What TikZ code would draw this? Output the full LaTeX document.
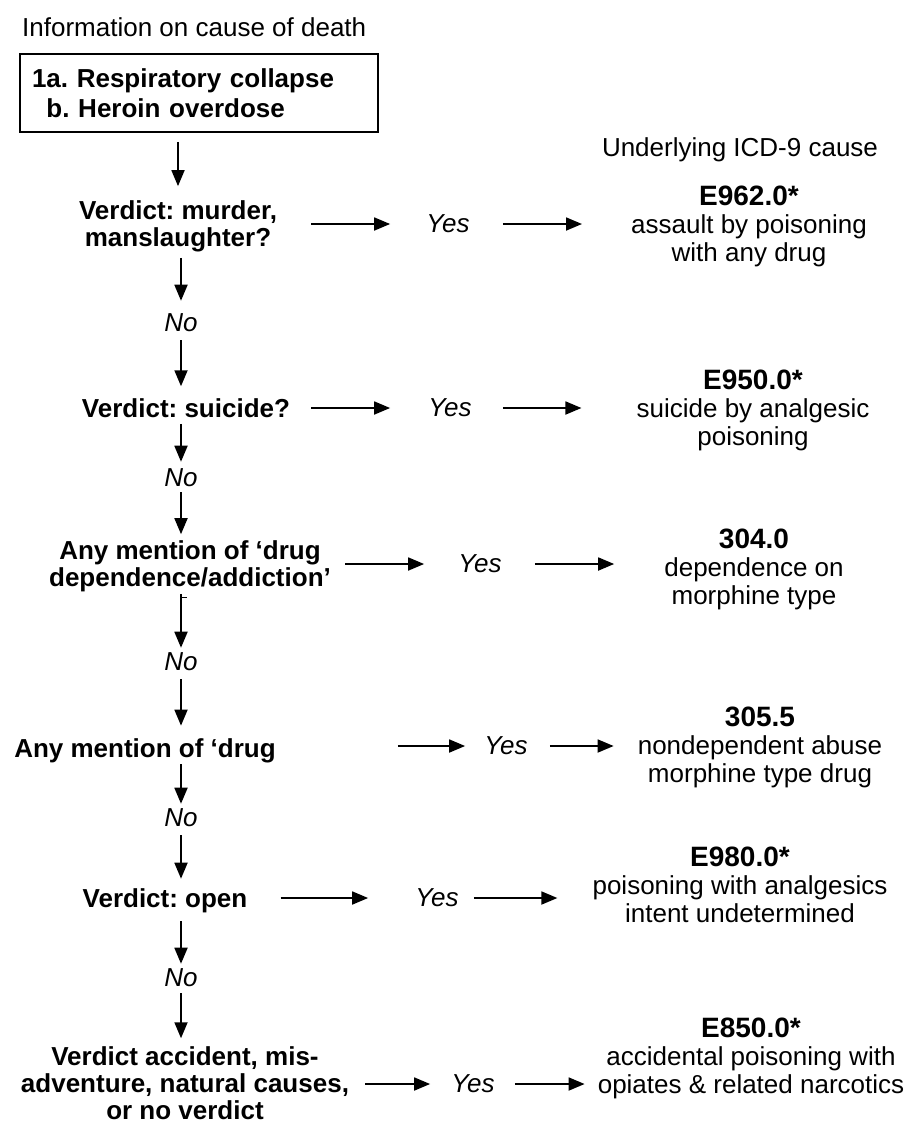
\documentclass[tikz,border=0pt]{standalone}
\usepackage{fontspec}
\setmainfont{Liberation Sans}
\usetikzlibrary{arrows.meta,positioning}

\newcommand{\basefont}{\fontsize{26}{28}\selectfont\frenchspacing}
\newcommand{\codefont}{\fontsize{28}{28}\selectfont\bfseries}

\tikzset{
	q/.style={font=\fontsize{26}{27}\selectfont\frenchspacing\bfseries, align=center, inner sep=0pt},
	ans/.style={font=\basefont, align=center, inner sep=0pt},
	yes/.style={font=\basefont\itshape, inner sep=0pt},
	no/.style={font=\basefont\itshape, inner sep=0pt},
	arr/.style={line width=1.8pt, -{Triangle[length=16pt,width=13pt]}}
}

\begin{document}
\begin{tikzpicture}[x=1pt, y=-1pt]
	\useasboundingbox (0,0) rectangle (914,1125);
	% headings and the certificate box
	\node[font=\basefont, anchor=west, inner sep=0pt] (info) at (22,27) {Information on cause of death};
	\node[draw, line width=1.5pt, font=\fontsize{26}{30}\selectfont\frenchspacing\bfseries, align=left,
		text width=334pt, inner xsep=12pt, minimum height=78pt] (cause) at (199,93)
		{1a. Respiratory collapse\\\phantom{1}b. Heroin overdose};
	\node[font=\basefont, inner sep=0pt] (icd) at (740,150) {Underlying ICD-9 cause};
	
	% questions down the left
	\node[q] (q1) at (178,226) {Verdict: murder,\\manslaughter?};
	\node[no] (no1) at (181,323) {No};
	\node[q] (q2) at (186,408) {Verdict: suicide?};
	\node[no] (no2) at (181,478) {No};
	\node[q] (q3) at (190,566) {Any mention of ‘drug\\dependence/addiction’};
	\node[no] (no3) at (181,662) {No};
	\node[q] (q4) at (145,751) {Any mention of ‘drug};
	\node[no] (no4) at (181,818) {No};
	\node[q] (q5) at (165,901) {Verdict: open};
	\node[no] (no5) at (181,978) {No};
	\node[q] (q6) at (185,1083) {Verdict accident, mis-\\adventure, natural causes,\\or no verdict};
	
	% yes labels
	\node[yes] (y1) at (448,224) {Yes};
	\node[yes] (y2) at (450,408) {Yes};
	\node[yes] (y3) at (480,564) {Yes};
	\node[yes] (y4) at (506,746) {Yes};
	\node[yes] (y5) at (437,898) {Yes};
	\node[yes] (y6) at (473,1084) {Yes};
	
	% ICD-9 codes
	\node[ans] (a1) at (749,226) {{\codefont E962.0*}\\assault by poisoning\\with any drug};
	\node[ans] (a2) at (753,410) {{\codefont E950.0*}\\suicide by analgesic\\poisoning};
	\node[ans] (a3) at (754,569) {{\codefont 304.0}\\dependence on\\morphine type};
	\node[ans] (a4) at (760,747) {{\codefont 305.5}\\nondependent abuse\\morphine type drug};
	\node[ans] (a5) at (740,885) {{\codefont E980.0*}\\poisoning with analgesics\\intent undetermined};
	\node[ans] (a6) at (751,1058) {{\codefont E850.0*}\\accidental poisoning with\\opiates \& related narcotics};
	
	% down the left
	\draw[arr, shorten <=9pt, shorten >=14pt] (cause.south -| q1) -- (q1.north);
	\draw[arr, shorten <=6pt, shorten >=13pt] (q1.south -| no1) -- (no1);
	\draw[arr, shorten <=8pt, shorten >=12pt] (no1) -- (no1 |- q2.north);
	\draw[arr, shorten <=6pt, shorten >=7pt] (q2.south -| no2) -- (no2);
	\draw[arr, shorten <=5pt, shorten >=6pt] (no2) -- (no2 |- q3.north);
	\draw[arr, shorten <=2pt, shorten >=5pt] (q3.south -| no3) -- (no3);
	\draw[line width=1pt] ([yshift=-6pt]q3.south -| no3) -- ++(6,0);
	\draw[arr, shorten <=8pt, shorten >=13pt] (no3) -- (no3 |- q4.north);
	\draw[arr, shorten <=1pt, shorten >=5pt] (q4.south -| no4) -- (no4);
	\draw[arr, shorten <=8pt, shorten >=10pt] (no4) -- (no4 |- q5.north);
	\draw[arr, shorten <=8pt, shorten >=5pt] (q5.south -| no5) -- (no5);
	\draw[arr, shorten <=6pt, shorten >=8pt] (no5) -- (no5 |- q6.north);
	
	% across to the codes
	\draw[arr, shorten <=34pt, shorten >=36pt] (q1.east |- y1) -- (y1.west);
	\draw[arr, shorten <=33pt, shorten >=49pt] (y1.east) -- (a1.west |- y1);
	\draw[arr, shorten <=21pt, shorten >=38pt] (q2.east |- y2) -- (y2.west);
	\draw[arr, shorten <=31pt, shorten >=55pt] (y2.east) -- (a2.west |- y2);
	\draw[arr, shorten <=14pt, shorten >=34pt] (q3.east |- y3) -- (y3.west);
	\draw[arr, shorten <=33pt, shorten >=50pt] (y3.east) -- (a3.west |- y3);
	\draw[arr, shorten <=122pt, shorten >=19pt] (q4.east |- y4) -- (y4.west);
	\draw[arr, shorten <=22pt, shorten >=24pt] (y4.east) -- (a4.west |- y4);
	\draw[arr, shorten <=33pt, shorten >=47pt] (q5.east |- y5) -- (y5.west);
	\draw[arr, shorten <=15pt, shorten >=35pt] (y5.east) -- (a5.west |- y5);
	\draw[arr, shorten <=16pt, shorten >=21pt] (q6.east |- y6) -- (y6.west);
	\draw[arr, shorten <=20pt, shorten >=13pt] (y6.east) -- (a6.west |- y6);
\end{tikzpicture}
\end{document}
